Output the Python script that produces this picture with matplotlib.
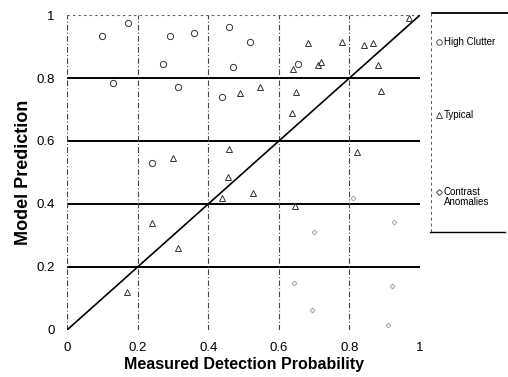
import matplotlib
matplotlib.use("Agg")
import matplotlib.pyplot as plt
from matplotlib.lines import Line2D

plt.rcParams['font.family'] = ['Liberation Sans', 'DejaVu Sans']

# --- Datos ---
clutter_x = [0.10, 0.173, 0.13, 0.292, 0.272, 0.315, 0.36, 0.459, 0.518, 0.47, 0.44, 0.24, 0.655]
clutter_y = [0.933, 0.975, 0.784, 0.933, 0.844, 0.771, 0.942, 0.962, 0.914, 0.835, 0.74, 0.53, 0.845]

typical_x = [0.683, 0.64, 0.71, 0.49, 0.547, 0.65, 0.97, 0.78, 0.84, 0.867, 0.72, 0.88, 0.89,
             0.82, 0.637, 0.46, 0.456, 0.527, 0.44, 0.646, 0.30, 0.24, 0.315, 0.17]
typical_y = [0.91, 0.83, 0.84, 0.752, 0.77, 0.756, 0.99, 0.915, 0.905, 0.91, 0.85, 0.84, 0.76,
             0.565, 0.689, 0.575, 0.486, 0.435, 0.42, 0.395, 0.546, 0.34, 0.26, 0.12]

contrast_x = [0.81, 0.70, 0.643, 0.694, 0.91, 0.925, 0.92]
contrast_y = [0.42, 0.31, 0.15, 0.063, 0.016, 0.343, 0.14]

ticks = [0, 0.2, 0.4, 0.6, 0.8, 1]
tick_labels = ['0', '0.2', '0.4', '0.6', '0.8', '1']

fig = plt.figure(figsize=(5.08, 3.77), dpi=100)
ax = fig.add_axes([0.1319, 0.1247, 0.695, 0.8355])

# rejilla
for v in [0.2, 0.4, 0.6, 0.8]:
    ax.axhline(v, color='black', lw=1.4, zorder=1)
for v in [0, 0.2, 0.4, 0.6, 0.8]:
    ax.axvline(v, color='#444444', lw=0.8, ls=(0, (5, 2, 1, 2)), zorder=1)
ax.axhline(1, color='#555555', lw=0.8, ls=(0, (2, 3)), zorder=1)

# diagonal
ax.plot([0, 1], [0, 1], color='black', lw=1.2, zorder=2)

ax.plot(clutter_x, clutter_y, 'o', mfc='none', mec='#333333', ms=4.5, mew=0.7, zorder=3)
ax.plot(typical_x, typical_y, '^', mfc='none', mec='#333333', ms=4.5, mew=0.7, zorder=3)
ax.plot(contrast_x, contrast_y, 'D', mfc='none', mec='#888888', ms=2.5, mew=0.5, zorder=3)

ax.set_xlim(0, 1)
ax.set_ylim(0, 1)
ax.set_xticks(ticks)
ax.set_xticklabels(tick_labels)
ax.set_yticks(ticks)
ax.set_yticklabels(tick_labels)
ax.tick_params(length=0, labelsize=9.5, pad=9)
for s in ax.spines.values():
    s.set_visible(False)

ax.set_xlabel('Measured Detection Probability', fontsize=11.5, fontweight='bold', labelpad=2)
ax.set_ylabel('Model Prediction', fontsize=13, fontweight='bold', labelpad=3)

# --- Leyenda dibujada a mano ---
fig.add_artist(Line2D([432/508, 1], [1 - 13/377, 1 - 13/377], color='black', lw=1.3))
fig.add_artist(Line2D([430/508, 505/508], [1 - 232/377, 1 - 232/377], color='black', lw=1.0))
fig.add_artist(Line2D([431/508, 431/508], [1 - 13/377, 1 - 232/377], color='#555555', lw=0.7,
                      ls=(0, (3, 3))))
items = [('o', 'High Clutter', 42), ('^', 'Typical', 115), ('D', 'Contrast\nAnomalies', 192)]
for m, lab, yy in items:
    fig.add_artist(Line2D([439/508], [1 - yy/377], marker=m, mfc='none', mec='#333333',
                          ms=4 if m != 'D' else 3, mew=0.6, ls='none'))
    if '\n' in lab:
        fig.text(444/508, 1 - (yy - 5)/377, lab, fontsize=7, va='top', ha='left', linespacing=1.0)
    else:
        fig.text(444/508, 1 - yy/377, lab, fontsize=7, va='center', ha='left')

fig.savefig('out.png', dpi=100)
